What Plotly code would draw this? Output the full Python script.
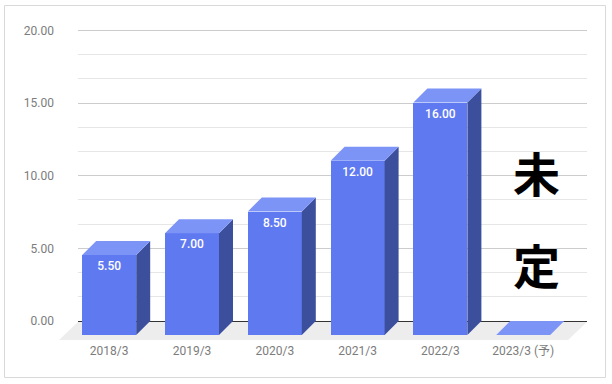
import plotly.graph_objects as go

categories = ["2018/3", "2019/3", "2020/3", "2021/3", "2022/3", "2023/3 (予)"]
values = [5.5, 7.0, 8.5, 12.0, 16.0, 0.0]
labels = ["5.50", "7.00", "8.50", "12.00", "16.00", ""]
ytick_vals = [0, 5, 10, 15, 20]
ytick_text = ["0.00", "5.00", "10.00", "15.00", "20.00"]

FRONT = "#5f79f1"
TOP = "#7d94f7"
SIDE = "#3c4f9d"
FLOOR = "#ededed"
TICK = "#7c7c7c"

W, H = 612, 384
L, R, T, B = 78, 587, 29, 340
PX_Y = 14.53
PX_X = 82.8
Y0_PX = 321
X0_PX = 109.2
xr = [(L - X0_PX) / PX_X, (R - X0_PX) / PX_X]
yr = [(Y0_PX - B) / PX_Y, (Y0_PX - T) / PX_Y]
dx = 14 / PX_X      # depth
dy = 14 / PX_Y
bw = 54 / PX_X
lab_off = 12 / PX_Y


def px(x):
    return (x - L) / (R - L)


def py(y):
    return (B - y) / (B - T)


fig = go.Figure()

# front faces
fig.add_trace(go.Bar(
    x=list(range(len(values))), y=values, base=[-dy] * len(values), width=bw,
    marker=dict(color=FRONT, line=dict(width=0)),
    cliponaxis=False, showlegend=False,
))

for i, v in enumerate(values):
    xl, xr_ = i - bw / 2, i + bw / 2
    if v > 0:
        fig.add_trace(go.Scatter(
            x=[xr_, xr_ + dx, xr_ + dx, xr_, xr_],
            y=[v - dy, v, 0, -dy, v - dy],
            mode="lines", fill="toself", fillcolor=SIDE, line=dict(width=0),
            cliponaxis=False, hoverinfo="skip", showlegend=False))
    fig.add_trace(go.Scatter(
        x=[xl, xl + dx, xr_ + dx, xr_, xl],
        y=[v - dy, v, v, v - dy, v - dy],
        mode="lines", fill="toself", fillcolor=TOP, line=dict(width=0),
        cliponaxis=False, hoverinfo="skip", showlegend=False))

# value labels inside the front faces
fig.add_trace(go.Scatter(
    x=list(range(len(values))), y=[v - dy - lab_off for v in values],
    mode="text", text=labels, textposition="middle center",
    textfont=dict(family="Roboto, sans-serif", size=12, color="#ffffff", weight=500),
    cliponaxis=False, hoverinfo="skip", showlegend=False))

floor_path = "M {} {} L {} {} L {} {} L {} {} Z".format(
    px(59), py(340), px(78), py(322), px(587), py(322), px(568), py(340))

fig.update_layout(
    width=W, height=H, autosize=False,
    margin=dict(l=L, r=W - R, t=T, b=H - B),
    paper_bgcolor="#ffffff", plot_bgcolor="#ffffff",
    bargap=0, showlegend=False,
    font=dict(family="Roboto, sans-serif", size=12, color=TICK),
    xaxis=dict(range=xr, tickmode="array", tickvals=list(range(len(categories))), ticktext=categories,
               showgrid=False, zeroline=False, showline=False, ticks="", ticklabelstandoff=2,
               tickfont=dict(size=12, color=TICK, family="Roboto, 'Noto Sans CJK JP', sans-serif")),
    yaxis=dict(range=yr, tickmode="array", tickvals=ytick_vals, ticktext=ytick_text,
               showgrid=True, gridcolor="#cccccc", gridwidth=1,
               zeroline=True, zerolinecolor="#333333", zerolinewidth=1, showline=False, ticks="",
               ticklabelstandoff=23,
               minor=dict(dtick=5 / 3, tick0=0, showgrid=True, gridcolor="#e6e6e6", gridwidth=1, ticks=""),
               tickfont=dict(size=12, color=TICK)),
    shapes=[
        dict(type="rect", xref="paper", yref="paper",
             x0=px(4.5), x1=px(605.5), y0=py(377.5), y1=py(5.5),
             line=dict(color="#d9d9d9", width=1), fillcolor="rgba(0,0,0,0)", layer="below"),
        dict(type="path", xref="paper", yref="paper", path=floor_path,
             fillcolor=FLOOR, line=dict(width=0), layer="between"),
        dict(type="rect", xref="paper", yref="paper",
             x0=px(512), x1=px(561), y0=py(300), y1=py(148),
             fillcolor="#ffffff", line=dict(width=0), layer="between"),
    ],
    annotations=[
        dict(xref="paper", yref="paper", x=px(536), y=py(171), text="<b>未</b>", showarrow=False,
             font=dict(family="Noto Sans CJK JP", size=47, color="#000000"),
             xanchor="center", yanchor="middle"),
        dict(xref="paper", yref="paper", x=px(536), y=py(263.5), text="<b>定</b>", showarrow=False,
             font=dict(family="Noto Sans CJK JP", size=47, color="#000000"),
             xanchor="center", yanchor="middle"),
    ],
)

fig.write_html("out.html", config={"displayModeBar": False},
               post_script="document.body.style.margin='0';")
